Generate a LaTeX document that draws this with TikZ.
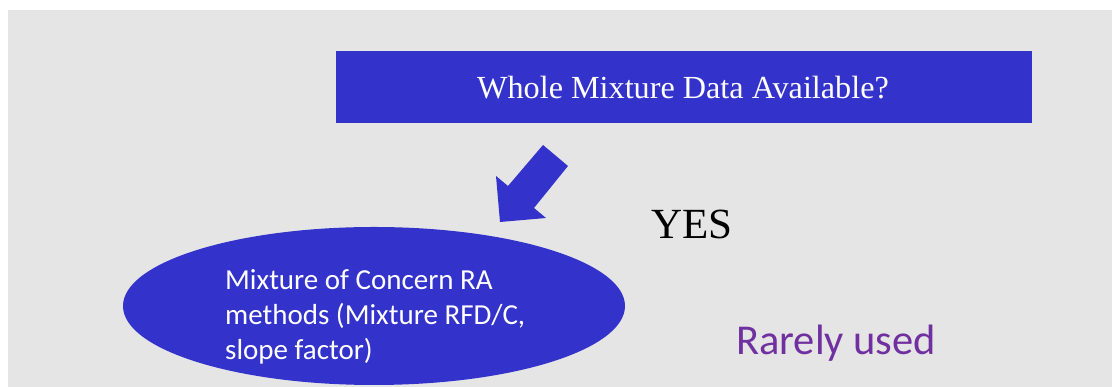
\documentclass[tikz,border=0pt]{standalone}
\usepackage{fontspec}
\setmainfont{Liberation Serif}
\newfontfamily\calib{Carlito}
\definecolor{bgray}{RGB}{229,229,229}
\definecolor{dblue}{RGB}{51,51,204}
\definecolor{mpurple}{RGB}{112,48,160}
\begin{document}
\begin{tikzpicture}[x=1pt,y=1pt,
  bluefill/.style={fill=dblue,draw=none},
  serift/.style={inner sep=0pt,font=\fontsize{32.2}{38}\selectfont},
  calt/.style={inner sep=0pt}]
\useasboundingbox (0,0) rectangle (1112,387);
\fill[white] (0,0) rectangle (1112,387);
\fill[bgray] (8,0) rectangle (1112,377);
% question box
\fill[bluefill] (336,264) rectangle (1032,336);
\node[serift,text=white] (q) at (683,299) {Whole Mixture Data Available?};
% block arrow
\fill[bluefill] (500,165) -- (496,211) -- (508,201) -- (543,242) -- (568,221) -- (534,179) -- (546,169) -- cycle;
\coordinate (tip) at (500,165);
% YES
\node[inner sep=0pt,anchor=base west,font=\fontsize{43}{50}\selectfont] (yes) at (651,148) {YES};
% ellipse
\fill[bluefill] (374,81) ellipse [x radius=251, y radius=79];
\node[calt,anchor=base west,align=left,text=white,font=\calib\fontsize{29}{35}\selectfont] (moc) at (225,27)
  {Mixture of Concern RA\\methods (Mixture RFD/C,\\slope factor)};
% rarely used
\node[calt,anchor=base west,text=mpurple,font=\calib\fontsize{42.5}{48}\selectfont] (ru) at (736,32) {Rarely used};
\end{tikzpicture}
\end{document}
